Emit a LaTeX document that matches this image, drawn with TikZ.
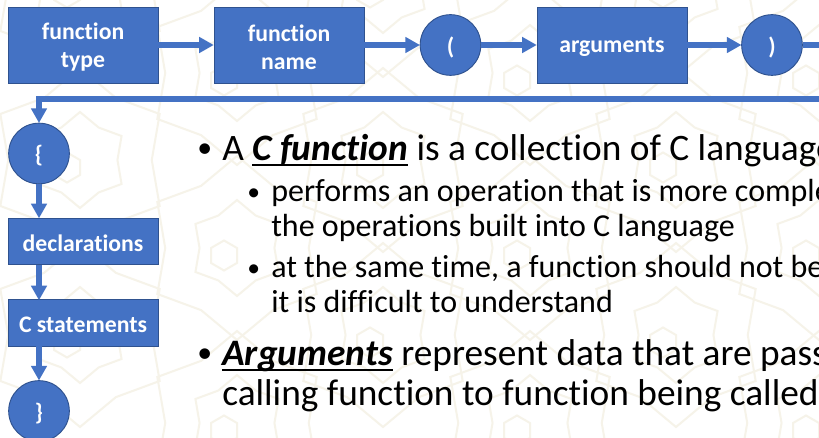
\documentclass[tikz,border=0pt]{standalone}
\usepackage{fontspec}
\setmainfont[RawFeature={-liga;-clig;-dlig}]{Carlito}
\usetikzlibrary{arrows.meta,calc}
\definecolor{boxblue}{HTML}{4472C4}
\definecolor{boxedge}{HTML}{2F528F}
\definecolor{motif}{HTML}{F6F3E9}
\newcommand{\thickul}[1]{\leavevmode\setbox0\hbox{#1}\rlap{\rule[-3.6pt]{\wd0}{1.5pt}}\box0\relax}
\newcommand{\blt}[1]{\raisebox{#1}{\scalebox{0.8}{•}}}
\newcommand{\lab}[1]{\raisebox{-1.6pt}[\height][\depth]{#1}}
\tikzset{
  x=0.75pt,y=-0.75pt,
  flowbox/.style={draw=boxedge,line width=0.7pt,fill=boxblue,text=white,minimum width=112.5pt,inner sep=0pt,align=center,font=\fontsize{17.8}{21}\selectfont\bfseries},
  flowcirc/.style={circle,draw=boxedge,line width=0.7pt,fill=boxblue,text=white,minimum size=45.5pt,inner sep=0pt,font=\fontsize{17.8}{21}\selectfont\bfseries},
  flowline/.style={draw=boxblue,line width=3.9pt},
  flowarrow/.style={flowline,-{Triangle[width=11.5pt,length=11pt]},shorten >=-0.2pt},
  lead/.style={anchor=base west,inner sep=0pt,font=\fontsize{28}{33}\selectfont},
  sub/.style={anchor=base west,inner sep=0pt,font=\fontsize{24}{28}\selectfont},
  star/.style={draw=motif,line width=1.5pt,line join=miter}
}
\newcommand{\motifstar}[3]{%
  \draw[star] ($(#1,#2)+(90:#3)$)
    \foreach \k in {1,...,11}{ -- ($(#1,#2)+({90+\k*30}:{#3*(1-0.22*mod(\k,2))})$)} -- cycle;}
\begin{document}
\begin{tikzpicture}
\useasboundingbox (0,0) rectangle (819,438);
\clip (0,0) rectangle (819,438);
\fill[white] (0,0) rectangle (819,438);
% faint background ornament
\foreach \cx/\cy in {80/160,237/248,383/335,80/335,237/73,383/160,530/248,676/335,530/73,676/160,819/248,80/-15,383/-15,676/-15,237/423,530/423,819/73,819/423}{
  \draw[star] (\cx,\cy)++(90:15) -- ++(150:15) -- ++(210:15) -- ++(270:15) -- ++(330:15) -- ++(30:15) -- cycle;
  \motifstar{\cx}{\cy}{48}
  \motifstar{\cx}{\cy}{92}
}
% flow nodes
\node[flowbox,minimum height=57pt] (ftype) at (83,45) {\lab{function}\\\lab{type}};
\node[flowbox,minimum height=57pt] (fname) at (289,45) {\lab{function}\\\lab{name}};
\node[flowcirc] (lpar) at (450.5,45) {\lab{(}};
\node[flowbox,minimum height=57pt] (args) at (612,45) {\lab{arguments}};
\node[flowcirc] (rpar) at (772,45) {\lab{)}};
\node[flowcirc] (lbrace) at (39,153.5) {\lab{\{}};
\node[flowbox,minimum height=35pt] (decl) at (83,241.5) {\lab{declarations}};
\node[flowbox,minimum height=35pt] (stmts) at (83,323) {\lab{C statements}};
\node[flowcirc] (rbrace) at (39,411) {\lab{\}}};
\coordinate (offA) at (830,45);
\coordinate (offB) at (830,99);
\coordinate (turn) at (39,99);
\coordinate (declTop) at (39,218);
\coordinate (declBot) at (39,265);
\coordinate (stmtTop) at (39,300);
\coordinate (stmtBot) at (39,346);
% connectors
\draw[flowarrow] (ftype) -- (fname);
\draw[flowarrow] (fname) -- (lpar);
\draw[flowarrow] (lpar) -- (args);
\draw[flowarrow] (args) -- (rpar);
\draw[flowline] (rpar) -- (offA);
\draw[flowarrow] (offB) -- (turn) -- (lbrace);
\draw[flowarrow] (lbrace) -- (declTop);
\draw[flowarrow] (declBot) -- (stmtTop);
\draw[flowarrow] (stmtBot) -- (rbrace);
% body text
\node[lead] (b1) at (197,161) {\blt{2.8pt}};
\node[lead] (t1) at (222,161) {A \thickul{\textbf{\textit{C function}}} is a collection of C language};
\node[sub] (b2) at (247,202) {\blt{1.2pt}};
\node[sub] (t2) at (271,202) {performs an operation that is more complex than};
\node[sub] (t3) at (271,237) {the operations built into C language};
\node[sub] (b3) at (247,278) {\blt{1.2pt}};
\node[sub] (t4) at (271,278) {at the same time, a function should not be so complex that};
\node[sub] (t5) at (271,312.5) {it is difficult to understand};
\node[lead] (b4) at (197,366) {\blt{2.8pt}};
\node[lead] (t6) at (222,366) {\thickul{\textbf{\textit{Arguments}}} represent data that are passed from};
\node[lead] (t7) at (222,406) {calling function to function being called};
\end{tikzpicture}
\end{document}
